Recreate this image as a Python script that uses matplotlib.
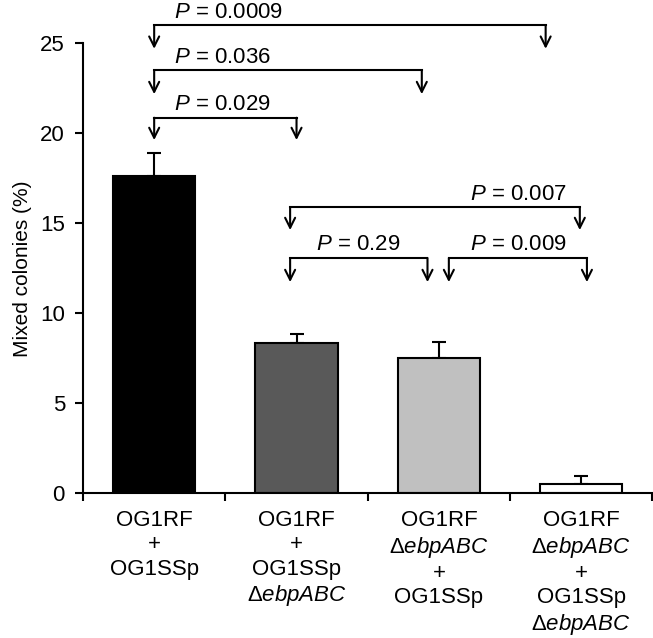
import numpy as np
import matplotlib.pyplot as plt

plt.rcParams['font.family'] = ['Liberation Sans', 'DejaVu Sans']
plt.rcParams['mathtext.fontset'] = 'custom'
plt.rcParams['mathtext.rm'] = 'Liberation Sans'
plt.rcParams['mathtext.it'] = 'Liberation Sans:italic'

# Data
categories = [
    'OG1RF\n+\nOG1SSp',
    'OG1RF\n+\nOG1SSp\n$\\mathit{ΔebpABC}$',
    'OG1RF\n$\\mathit{ΔebpABC}$\n+\nOG1SSp',
    'OG1RF\n$\\mathit{ΔebpABC}$\n+\nOG1SSp\n$\\mathit{ΔebpABC}$',
]
values = [17.65, 8.35, 7.52, 0.51]
errors = [1.27, 0.50, 0.87, 0.46]
bar_colors = ['black', '#595959', '#c0c0c0', 'white']

# significance brackets: left x, right x, bar line height, arrow tip height
p_labels = ['0.0009', '0.036', '0.029', '0.007', '0.29', '0.009']
br_left = [0.0, 0.0, 0.0, 0.955, 0.955, 2.07]
br_right = [2.75, 1.88, 1.0, 2.99, 1.92, 3.04]
br_line = [26.0, 23.5, 20.87, 15.9, 13.08, 13.08]
br_tip = [24.7, 22.18, 19.63, 14.63, 11.74, 11.74]
label_x = [0.14, 0.14, 0.14, 2.22, 1.14, 2.22]

fig = plt.figure(figsize=(6.53, 6.38), dpi=100)
ax = fig.add_axes([0.1271, 0.2265, 0.872, 0.7055])

x = np.arange(len(values))
ax.bar(x, values, width=0.578, color=bar_colors, edgecolor='black', linewidth=1.5, zorder=2)
ax.errorbar(x, values, yerr=[np.zeros(len(values)), errors], fmt='none',
            ecolor='black', elinewidth=1.5, capsize=5, capthick=1.5, zorder=1)

lw = 1.5
for lab, xl, xr, yl, yt, tx in zip(p_labels, br_left, br_right, br_line, br_tip, label_x):
    ax.plot([xl, xr], [yl, yl], color='black', lw=lw, clip_on=False, solid_capstyle='projecting')
    for xx in (xl, xr):
        ax.annotate('', xy=(xx, yt), xytext=(xx, yl), annotation_clip=False,
                    arrowprops=dict(arrowstyle='->,head_length=0.4,head_width=0.2',
                                    mutation_scale=18, lw=lw, color='black',
                                    shrinkA=0, shrinkB=0))
    ax.text(tx, yl + 0.42, '$\\mathit{P}$ = ' + lab, fontsize=16, ha='left', va='baseline')

ax.set_xlim(-0.5, 3.5)
ax.set_ylim(0, 25)
ax.set_yticks([0, 5, 10, 15, 20, 25])
ax.set_xticks([-0.5, 0.5, 1.5, 2.5, 3.5])
ax.set_xticklabels([])
ax.set_xticks(x, minor=True)
ax.set_xticklabels(categories, minor=True, fontsize=16, linespacing=1.2)
ax.tick_params(axis='x', which='minor', length=0, pad=12)
ax.tick_params(axis='x', which='major', length=6, width=1.5, direction='out')
ax.tick_params(axis='y', length=6, width=1.5, labelsize=16, pad=7)

ax.spines['top'].set_visible(False)
ax.spines['right'].set_visible(False)
ax.spines['left'].set_linewidth(1.5)
ax.spines['bottom'].set_linewidth(1.5)

ax.set_ylabel('Mixed colonies (%)', fontsize=15, labelpad=6)

fig.savefig('out.png', dpi=100)
